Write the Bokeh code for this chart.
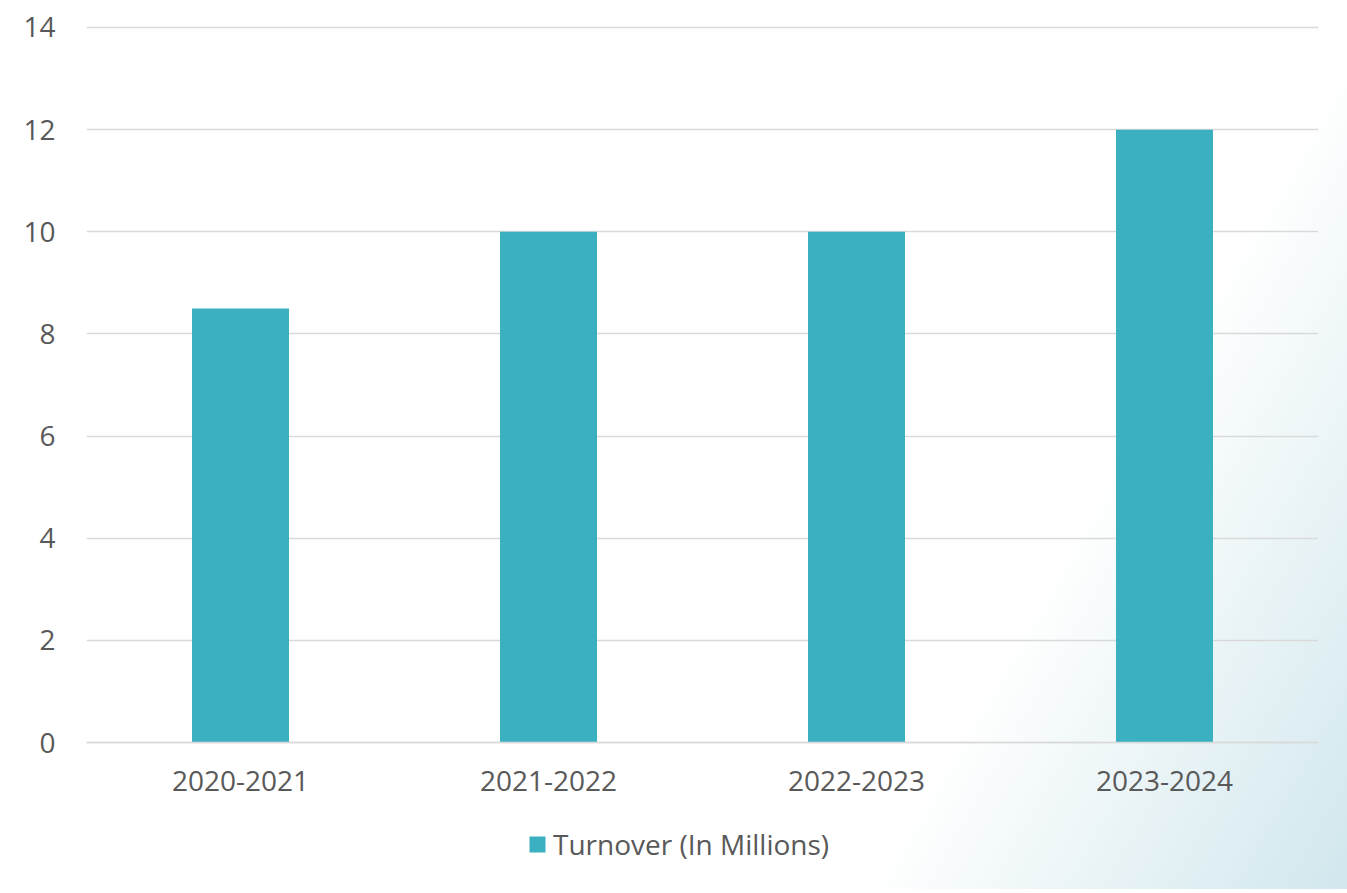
from bokeh.plotting import figure
from bokeh.models import Range1d, Legend, LegendItem, FactorRange
from bokeh.embed import file_html
from bokeh.resources import INLINE

categories = ["2020-2021", "2021-2022", "2022-2023", "2023-2024"]
turnover = [8.5, 10, 10, 12]
series_name = "Turnover (In Millions)"
y_ticks = [0, 2, 4, 6, 8, 10, 12, 14]

FONT = "Open Sans"
TXT = "#595959"
BAR = "#3BB0C0"
GRID = "#D9D9D9"

# frame spans the whole lower area so the legend below the axis is not clipped
p = figure(x_range=FactorRange(*categories, range_padding=0), y_range=Range1d(-2.878, 14.137),
           width=1347, height=889, output_backend="svg", toolbar_location=None,
           min_border_left=86, min_border_top=20, min_border_right=29, min_border_bottom=0)

r = p.vbar(x=categories, top=turnover, width=0.315, color=BAR, line_color=None)

p.background_fill_alpha = 0
p.border_fill_alpha = 0
p.outline_line_color = None
p.styles = {"background": "linear-gradient(120deg, #FFFFFF 74%, #D1E7ED 100%)"}

p.xgrid.grid_line_color = None
p.ygrid.grid_line_color = GRID
p.ygrid.grid_line_width = 1.5
p.yaxis.ticker = y_ticks

for ax in (p.xaxis[0], p.yaxis[0]):
    ax.major_tick_line_color = None
    ax.minor_tick_line_color = None
    ax.major_label_text_font = FONT
    ax.major_label_text_font_size = "28px"
    ax.major_label_text_color = TXT
p.yaxis.axis_line_color = None
p.yaxis.major_label_standoff = 25
p.xaxis.axis_line_color = GRID
p.xaxis.axis_line_width = 1.5
p.xaxis.major_label_standoff = 22
p.xaxis.fixed_location = 0

legend = Legend(items=[LegendItem(label=series_name, renderers=[r])],
                orientation="horizontal", location=(441, 26),
                label_text_font=FONT, label_text_font_size="28px", label_text_color=TXT,
                glyph_width=20, glyph_height=20, label_standoff=6, label_height=30,
                border_line_color=None, background_fill_alpha=0, margin=0, padding=8)
p.add_layout(legend, "center")

open("out.html", "w").write(file_html(p, INLINE))
